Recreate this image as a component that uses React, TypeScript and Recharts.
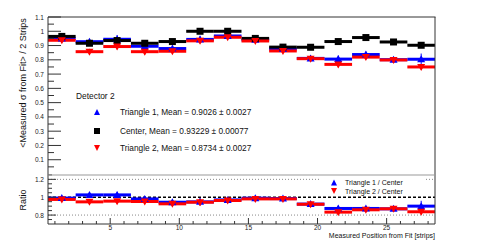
import { ComposedChart, Scatter, XAxis, YAxis, ErrorBar, ReferenceLine } from "recharts"

// bins of width 2 strips
const binCenters = [1.5, 3.5, 5.5, 7.5, 9.5, 11.5, 13.5, 15.5, 17.5, 19.5, 21.5, 23.5, 25.5, 27.5]
const binHalfWidth = 1

const triangle1 = [0.95, 0.927, 0.944, 0.895, 0.879, 0.943, 0.967, 0.94, 0.876, 0.81, 0.805, 0.837, 0.801, 0.804]
const triangle1Err = [0.01, 0.015, 0.03, 0.015, 0.012, 0.025, 0.015, 0.012, 0.015, 0.02, 0.025, 0.02, 0.02, 0.04]
const center = [0.964, 0.916, 0.935, 0.916, 0.928, 1.0, 1.0, 0.95, 0.889, 0.888, 0.928, 0.956, 0.925, 0.902]
const centerErr = [0.003, 0.003, 0.003, 0.003, 0.003, 0.003, 0.003, 0.003, 0.003, 0.003, 0.003, 0.003, 0.003, 0.003]
const triangle2 = [0.937, 0.857, 0.893, 0.857, 0.86, 0.933, 0.958, 0.932, 0.862, 0.808, 0.768, 0.819, 0.799, 0.75]
const triangle2Err = [0.01, 0.02, 0.02, 0.02, 0.015, 0.02, 0.015, 0.012, 0.015, 0.015, 0.02, 0.015, 0.02, 0.02]

const ratio1 = [0.99, 1.026, 1.026, 0.981, 0.944, 0.948, 0.97, 0.989, 0.985, 0.923, 0.874, 0.874, 0.87, 0.9]
const ratio1Err = [0.015, 0.02, 0.035, 0.02, 0.02, 0.04, 0.02, 0.015, 0.02, 0.025, 0.03, 0.025, 0.03, 0.06]
const ratio2 = [0.975, 0.948, 0.956, 0.952, 0.926, 0.944, 0.963, 0.981, 0.981, 0.921, 0.833, 0.859, 0.87, 0.837]
const ratio2Err = [0.015, 0.025, 0.025, 0.025, 0.02, 0.04, 0.02, 0.015, 0.02, 0.02, 0.03, 0.02, 0.03, 0.03]

const xTicks = [1, 2, 3, 4, 5, 6, 7, 8, 9, 10, 11, 12, 13, 14, 15, 16, 17, 18, 19, 20, 21, 22, 23, 24, 25, 26, 27, 28]
const xLabels = [5, 10, 15, 20, 25]
const topYTicks = [0.05, 0.1, 0.15, 0.2, 0.25, 0.3, 0.35, 0.4, 0.45, 0.5, 0.55, 0.6, 0.65, 0.7, 0.75, 0.8, 0.85, 0.9, 0.95, 1.0, 1.05, 1.1]
const topYLabels = [0.1, 0.2, 0.3, 0.4, 0.5, 0.6, 0.7, 0.8, 0.9, 1.0, 1.1]
const ratioYTicks = [0.75, 0.8, 0.85, 0.9, 0.95, 1.0, 1.05, 1.1, 1.15, 1.2, 1.25]
const ratioYLabels = [0.8, 1.0, 1.2]

const FONT = "'Liberation Sans', Arial, Helvetica, sans-serif"
const BLUE = "#0000ff"
const RED = "#ff0000"

const toRows = (vals: number[], errs: number[]) =>
  binCenters.map((x, i) => ({ x, y: vals[i], ex: binHalfWidth, ey: errs[i] }))

const fmt = (v: number) => (Math.abs(v - 1) < 1e-9 ? "1" : v.toFixed(1))
const isIn = (list: number[], v: number) => list.some((t) => Math.abs(t - v) < 1e-9)

const Square = (p: any) => <rect x={p.cx - 3.5} y={p.cy - 3.5} width={7} height={7} fill="#000" />
const UpTri = (p: any) => (
  <polygon points={`${p.cx},${p.cy - 4} ${p.cx - 4},${p.cy + 3} ${p.cx + 4},${p.cy + 3}`} fill={BLUE} />
)
const DownTri = (p: any) => (
  <polygon points={`${p.cx},${p.cy + 4} ${p.cx - 4},${p.cy - 3} ${p.cx + 4},${p.cy - 3}`} fill={RED} />
)

const makeYTick = (labels: number[], majorLen: number, minorLen: number) => (props: any) => {
  const { x, y, payload } = props
  const major = isIn(labels, payload.value)
  return (
    <g>
      <line x1={x} x2={x + (major ? majorLen : minorLen)} y1={y} y2={y} stroke="#333" />
      {major && (
        <text x={x - 4} y={y} textAnchor="end" dominantBaseline="central" fontSize={6.5} fontFamily={FONT} fill="#222">
          {fmt(payload.value)}
        </text>
      )}
    </g>
  )
}

const makeXTick = (showLabels: boolean) => (props: any) => {
  const { x, y, payload } = props
  const major = isIn(xLabels, payload.value)
  return (
    <g>
      <line x1={x} x2={x} y1={y} y2={y - (major ? 6 : 3)} stroke="#333" />
      {showLabels && major && (
        <text x={x} y={y + 3.5} textAnchor="middle" dominantBaseline="central" fontSize={6.5} fontFamily={FONT} fill="#222">
          {payload.value}
        </text>
      )}
    </g>
  )
}

function Series({ data, color, shape }: any) {
  return (
    <Scatter data={data} dataKey="y" shape={shape} isAnimationActive={false}>
      <ErrorBar dataKey="ex" direction="x" width={0} stroke={color} strokeWidth={3} isAnimationActive={false} />
      <ErrorBar dataKey="ey" direction="y" width={0} stroke={color} strokeWidth={1} isAnimationActive={false} />
    </Scatter>
  )
}

export default function App() {
  const tri1Rows = toRows(triangle1, triangle1Err)
  const centerRows = toRows(center, centerErr)
  const tri2Rows = toRows(triangle2, triangle2Err)
  const r1Rows = toRows(ratio1, ratio1Err)
  const r2Rows = toRows(ratio2, ratio2Err)

  return (
    <div style={{ position: "absolute", left: 0, top: 0, width: 484, height: 250, background: "#fff", fontFamily: FONT }}>
      <div style={{ position: "absolute", left: 0, top: 0 }}>
        <ComposedChart width={484} height={174} margin={{ top: 17, right: 49, bottom: 0, left: 0 }}>
          <XAxis
            type="number"
            dataKey="x"
            domain={[0.5, 28.5]}
            ticks={xTicks}
            interval={0}
            tickSize={0}
            tickMargin={0}
            height={0}
            allowDataOverflow
            tick={makeXTick(false)}
            axisLine={{ stroke: "#555", strokeWidth: 1.5 }}
          />
          <YAxis
            type="number"
            dataKey="y"
            domain={[0, 1.1]}
            ticks={topYTicks}
            interval={0}
            tickSize={0}
            tickMargin={0}
            width={48}
            allowDataOverflow
            tick={makeYTick(topYLabels, 13, 6)}
            axisLine={{ stroke: "#333" }}
          />
          <Series data={tri1Rows} color={BLUE} shape={UpTri} />
          <Series data={centerRows} color="#000" shape={Square} />
          <Series data={tri2Rows} color={RED} shape={DownTri} />
        </ComposedChart>
      </div>

      <div style={{ position: "absolute", left: 0, top: 174 }}>
        <ComposedChart width={484} height={76} margin={{ top: 0, right: 49, bottom: 0, left: 0 }}>
          <XAxis
            type="number"
            dataKey="x"
            domain={[0.5, 28.5]}
            ticks={xTicks}
            interval={0}
            tickSize={0}
            tickMargin={0}
            height={26}
            allowDataOverflow
            tick={makeXTick(true)}
            axisLine={{ stroke: "#333" }}
          />
          <YAxis
            type="number"
            dataKey="y"
            domain={[0.7, 1.26]}
            ticks={ratioYTicks}
            interval={0}
            tickSize={0}
            tickMargin={0}
            width={48}
            allowDataOverflow
            tick={makeYTick(ratioYLabels, 8, 4)}
            axisLine={{ stroke: "#333" }}
          />
          <ReferenceLine y={1.2} stroke="#888" strokeDasharray="1 2" />
          <ReferenceLine y={0.8} stroke="#888" strokeDasharray="1 2" />
          <ReferenceLine y={1} stroke="#000" strokeWidth={1.5} strokeDasharray="3 2" />
          <Series data={r1Rows} color={BLUE} shape={UpTri} />
          <Series data={r2Rows} color={RED} shape={DownTri} />
        </ComposedChart>
      </div>

      <svg width={484} height={250} style={{ position: "absolute", left: 0, top: 0, pointerEvents: "none" }}>
        {/* frames */}
        <line x1={48} x2={435.5} y1={17} y2={17} stroke="#333" />
        <line x1={435} x2={435} y1={17} y2={224} stroke="#333" />
        <line x1={48} x2={435} y1={175} y2={175} stroke="#999" />

        {/* axis titles */}
        <text x={23} y={83} transform="rotate(-90 23 83)" textAnchor="middle" dominantBaseline="central" fontSize={9} fontFamily={FONT} fill="#111">
          {"<Measured σ from Fit> / 2 Strips"}
        </text>
        <text x={23} y={200} transform="rotate(-90 23 200)" textAnchor="middle" dominantBaseline="central" fontSize={9} fontFamily={FONT} fill="#111">
          Ratio
        </text>
        <text x={435} y={235.5} textAnchor="end" dominantBaseline="central" fontSize={7} fontFamily={FONT} fill="#111">
          Measured Position from Fit [strips]
        </text>

        {/* main legend */}
        <text x={76} y={96} dominantBaseline="central" fontSize={8.4} fontFamily={FONT} fill="#111">Detector 2</text>
        <polygon points="97,109 94,115 100,115" fill={BLUE} />
        <text x={120} y={112} dominantBaseline="central" fontSize={8.3} fontFamily={FONT} fill="#111">
          Triangle 1, Mean = 0.9026 ± 0.0027
        </text>
        <rect x={94} y={128} width={6} height={6} fill="#000" />
        <text x={120} y={131} dominantBaseline="central" fontSize={8.3} fontFamily={FONT} fill="#111">
          Center, Mean = 0.93229 ± 0.00077
        </text>
        <polygon points="97,151 94,145 100,145" fill={RED} />
        <text x={120} y={148} dominantBaseline="central" fontSize={8.3} fontFamily={FONT} fill="#111">
          Triangle 2, Mean = 0.8734 ± 0.0027
        </text>

        {/* ratio legend */}
        <rect x={319} y={176} width={105} height={19} fill="#fff" />
        <polygon points="334,179.5 331,185.5 337,185.5" fill={BLUE} />
        <text x={345} y={182.5} dominantBaseline="central" fontSize={7} fontFamily={FONT} fill="#111">
          Triangle 1 / Center
        </text>
        <polygon points="334,194 331,188 337,188" fill={RED} />
        <text x={345} y={191} dominantBaseline="central" fontSize={7} fontFamily={FONT} fill="#111">
          Triangle 2 / Center
        </text>
      </svg>
    </div>
  )
}
